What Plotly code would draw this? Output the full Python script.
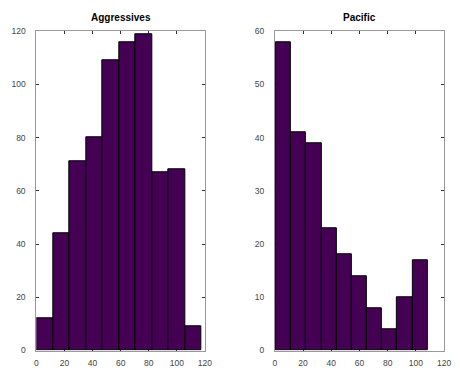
import numpy as np
import plotly.graph_objects as go
from plotly.subplots import make_subplots

# Histogram counts per bin
aggressive_counts = [12, 44, 71, 80, 109, 116, 119, 67, 68, 9]
pacific_counts = [58, 41, 39, 23, 18, 14, 8, 4, 10, 17]

# Bin range (first and last edge) for each histogram
aggressive_range = [0.0, 117.6]
pacific_range = [0.7, 108.3]

titles = ["Aggressives", "Pacific"]
x_ticks = [0, 20, 40, 60, 80, 100, 120]
aggressive_yticks = [0, 20, 40, 60, 80, 100, 120]
pacific_yticks = [0, 10, 20, 30, 40, 50, 60]

FILL = "#440154"

fig = make_subplots(rows=1, cols=2)


def add_hist(counts, rng, col):
    edges = np.linspace(rng[0], rng[1], len(counts) + 1)
    centers = (edges[:-1] + edges[1:]) / 2
    widths = np.diff(edges)
    fig.add_trace(
        go.Bar(
            x=centers,
            y=counts,
            width=widths,
            marker=dict(color=FILL, line=dict(color="black", width=1)),
            showlegend=False,
        ),
        row=1,
        col=col,
    )


add_hist(aggressive_counts, aggressive_range, 1)
add_hist(pacific_counts, pacific_range, 2)

y_bot = 1 - 355 / 374
y_top = 1 - 27 / 374

axis_common = dict(
    showgrid=False,
    zeroline=False,
    ticks="inside",
    ticklen=3,
    tickcolor="#333",
    mirror="ticks",
    showline=True,
    linecolor="#999",
    linewidth=1,
    layer="below traces",
    tickfont=dict(family="Liberation Sans, Arial, sans-serif", size=8.5, color="#444"),
)

fig.update_xaxes(
    range=[0, 120], tickvals=x_ticks, domain=[35 / 460, 207 / 460],
    ticklabelstandoff=4, row=1, col=1, **axis_common
)
fig.update_xaxes(
    range=[0, 120], tickvals=x_ticks, domain=[278.3 / 460, 451 / 460],
    ticklabelstandoff=4, row=1, col=2, **axis_common
)
fig.update_yaxes(
    range=[0, 120], tickvals=aggressive_yticks, domain=[y_bot, y_top],
    ticklabelstandoff=8, row=1, col=1, **axis_common
)
fig.update_yaxes(
    range=[0, 60], tickvals=pacific_yticks, domain=[y_bot, y_top],
    ticklabelstandoff=8, row=1, col=2, **axis_common
)

# Bold titles above each panel
for title, cx in zip(titles, [121 / 460, 364.6 / 460]):
    fig.add_annotation(
        text=f"<b>{title}</b>",
        x=cx,
        y=1 - 13 / 374,
        xref="paper",
        yref="paper",
        showarrow=False,
        font=dict(family="Liberation Sans, Arial, sans-serif", size=10, color="black"),
        xanchor="center",
        yanchor="middle",
    )

fig.update_layout(
    width=460,
    height=374,
    margin=dict(l=0, r=0, t=0, b=0),
    paper_bgcolor="white",
    plot_bgcolor="white",
    bargap=0,
)

fig.write_html("out.html")
